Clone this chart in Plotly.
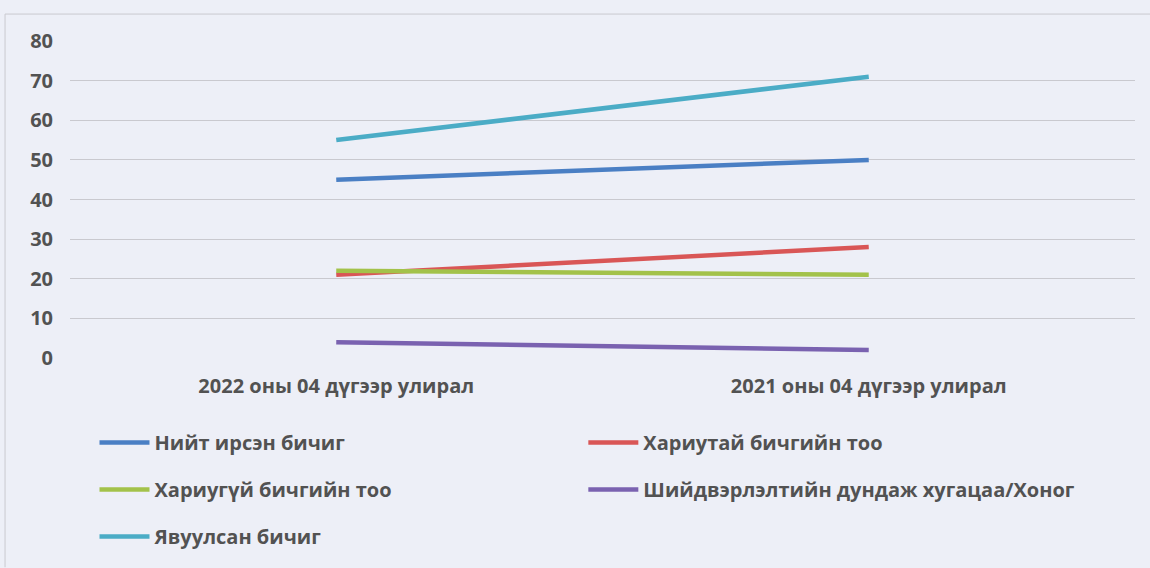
import plotly.graph_objects as go

categories = ["2022 оны 04 дүгээр улирал", "2021 оны 04 дүгээр улирал"]
series_names = [
    "Нийт ирсэн бичиг",
    "Хариутай бичгийн тоо",
    "Хариугүй бичгийн тоо",
    "Шийдвэрлэлтийн дундаж хугацаа/Хоног",
    "Явуулсан бичиг",
]
niit = [45, 50]
hariutai = [21, 28]
hariugui = [22, 21]
shiidverlelt = [4, 2]
yavuulsan = [55, 71]
y_ticks = [0, 10, 20, 30, 40, 50, 60, 70, 80]

colors = ["#4a7fc4", "#d95656", "#a3c24a", "#7a62b0", "#4bacc6"]
values = [niit, hariutai, hariugui, shiidverlelt, yavuulsan]
legend_of = ["legend", "legend2", "legend", "legend2", "legend"]

FONT = "Open Sans, sans-serif"
GREY = "#525252"
BG = "#edeff7"

fig = go.Figure()
for name, vals, col, lg in zip(series_names, values, colors, legend_of):
    fig.add_trace(go.Scatter(
        x=categories, y=vals, mode="lines", name=name,
        line=dict(color=col, width=4.5),
        legend=lg, legendgroup=name,
    ))

legend_common = dict(
    orientation="v", yanchor="top", xanchor="left",
    bgcolor="rgba(0,0,0,0)", tracegroupgap=18, itemwidth=50,
    font=dict(family=FONT, size=20, color=GREY, weight="bold"),
)

fig.update_layout(
    width=1150, height=568,
    margin=dict(l=70, r=15, t=41, b=210),
    paper_bgcolor=BG, plot_bgcolor=BG,
    showlegend=True,
    legend=dict(x=0.023, y=-0.205, **legend_common),
    legend2=dict(x=0.482, y=-0.205, **legend_common),
    xaxis=dict(
        type="category", range=[-0.5, 1.5], showgrid=False, zeroline=False,
        showline=False, ticks="", ticklabelstandoff=14,
        tickfont=dict(family=FONT, size=20, color=GREY, weight="bold"),
    ),
    yaxis=dict(
        range=[0, 80], tickvals=y_ticks, showgrid=True, gridcolor="#c9c9cf",
        gridwidth=1, zeroline=False, showline=False, ticks="",
        ticklabelstandoff=16,
        tickfont=dict(family=FONT, size=20, color=GREY, weight="bold"),
    ),
    shapes=[
        dict(type="line", xref="paper", yref="paper", x0=-0.061, x1=1.02,
             y0=1.085, y1=1.085, line=dict(color="#c9c9cf", width=1)),
        dict(type="line", xref="paper", yref="paper", x0=-0.061, x1=-0.061,
             y0=1.085, y1=-0.66, line=dict(color="#c9c9cf", width=1)),
    ],
)

fig.write_html(
    "out.html",
    config={"displayModeBar": False},
    post_script="document.body.style.margin='0';document.body.style.background='%s';" % BG,
)
